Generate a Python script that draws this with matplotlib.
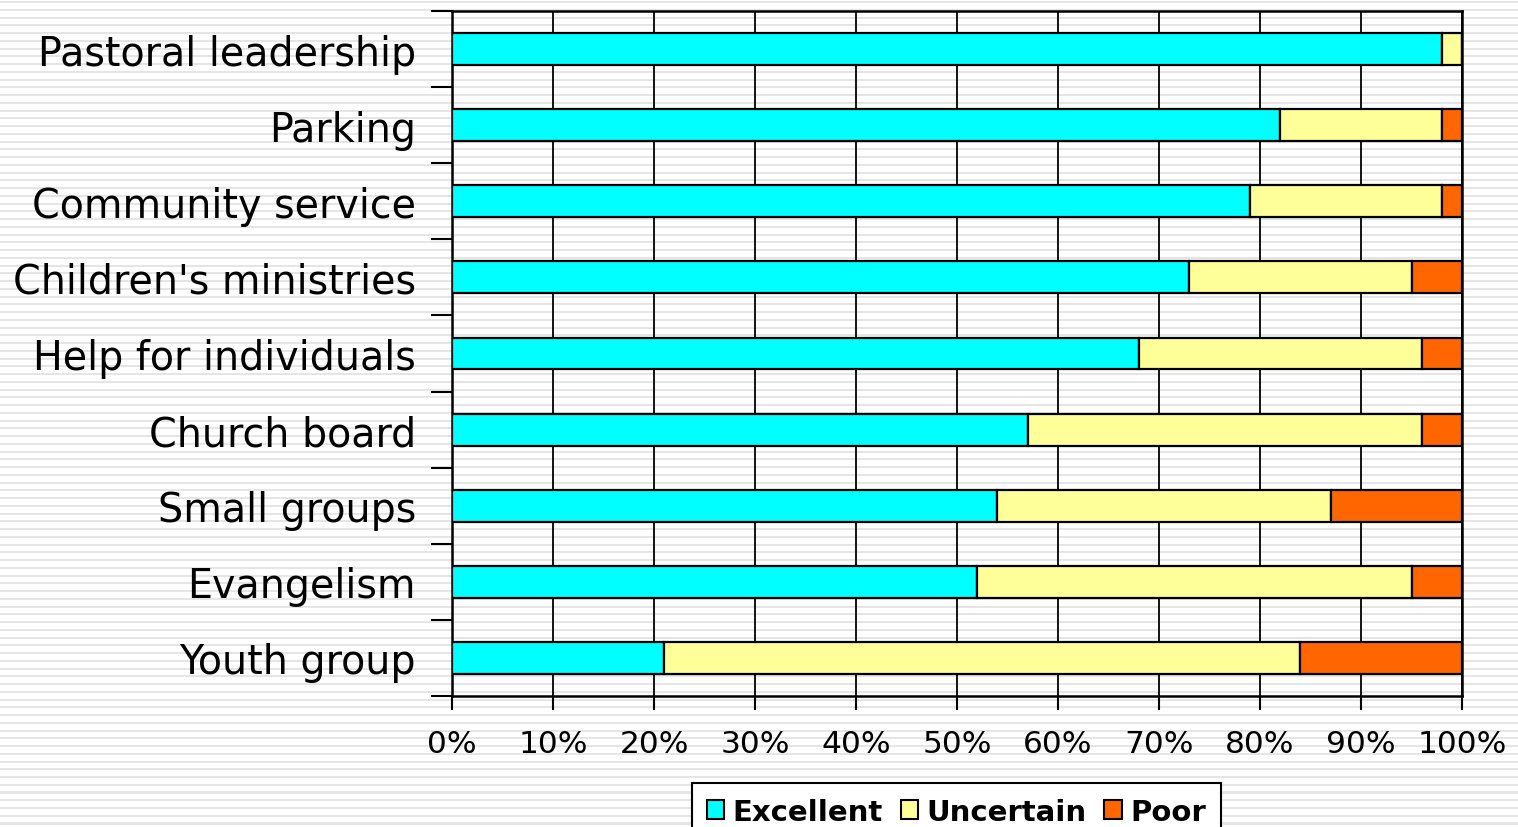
import matplotlib
matplotlib.use("Agg")
import matplotlib.pyplot as plt
import numpy as np
from matplotlib.patches import Patch

categories = ["Pastoral leadership", "Parking", "Community service",
              "Children's ministries", "Help for individuals", "Church board",
              "Small groups", "Evangelism", "Youth group"]
excellent = [98, 82, 79, 73, 68, 57, 54, 52, 21]
uncertain = [2, 16, 19, 22, 28, 39, 33, 43, 63]
poor = [0, 2, 2, 5, 4, 4, 13, 5, 16]
series_names = ["Excellent", "Uncertain", "Poor"]
colors = ["#00FFFF", "#FFFF99", "#FF6600"]
x_ticks = list(range(0, 101, 10))
x_labels = [f"{v}%" for v in x_ticks]

W, H = 1518, 828
fig = plt.figure(figsize=(W / 100, H / 100), dpi=100)
fig.patch.set_facecolor("white")

# striped backdrop
bg = fig.add_axes([0, 0, 1, 1], zorder=-10)
bg.set_xlim(0, W)
bg.set_ylim(H, 0)
bg.axis("off")
period = 7.75
for y in np.arange(2.0, H, period):
    bg.axhspan(y, y + 2.2, color="#e5e5e5", lw=0)

ax = fig.add_axes([452 / W, 1 - 697 / H, (1462 - 452) / W, (697 - 12) / H])
ax.set_facecolor("none")

ypos = np.arange(len(categories))
left = np.zeros(len(categories))
for vals, col, name in zip([excellent, uncertain, poor], colors, series_names):
    vals = np.array(vals, dtype=float)
    ax.barh(ypos, vals, left=left, height=0.42, color=col,
            edgecolor="black", linewidth=1.6, zorder=3, label=name)
    left += vals

ax.set_xlim(0, 100)
ax.set_ylim(len(categories) - 0.5, -0.5)

ax.set_xticks(x_ticks)
ax.set_xticklabels(x_labels, fontsize=22.5)
ax.xaxis.grid(True, color="black", linewidth=1.3, zorder=1)
ax.set_axisbelow(True)

ax.set_yticks(np.arange(-0.5, len(categories), 1.0))
ax.set_yticklabels([])
ax.set_yticks(ypos, minor=True)
ax.set_yticklabels(categories, minor=True, fontsize=28.5)
ax.tick_params(axis="y", which="minor", length=0, pad=26)
ax.tick_params(axis="y", which="major", length=15, width=1.5, direction="out")
ax.tick_params(axis="x", length=10, width=1.5, direction="out", pad=14)

for side in ["left", "right", "top", "bottom"]:
    ax.spines[side].set_linewidth(1.8)
    ax.spines[side].set_color("black")

handles = [Patch(facecolor=c, edgecolor="black", linewidth=1.5) for c in colors]
leg = fig.legend(handles, series_names, loc="upper center",
                 bbox_to_anchor=(956.5 / W, 1 - 784 / H), ncol=3,
                 prop={"weight": "bold", "size": 21}, frameon=True,
                 fancybox=False, edgecolor="black", framealpha=1,
                 handlelength=0.6, handleheight=0.6, handletextpad=0.3,
                 columnspacing=0.6, borderpad=0.5, borderaxespad=0)
leg.get_frame().set_linewidth(1.5)

fig.savefig("out.png", dpi=100)
